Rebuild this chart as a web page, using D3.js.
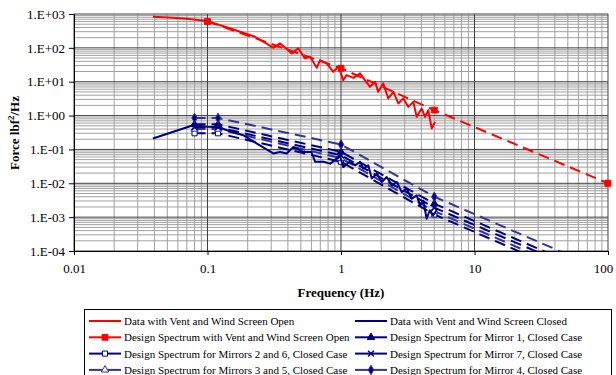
<!DOCTYPE html>
<html>
<head>
<meta charset="utf-8">
<script src="https://cdn.jsdelivr.net/npm/d3@7"></script>
<style>
  body { margin: 0; background: #fff; }
  svg { font-family: "Liberation Serif", "Times New Roman", serif; }
</style>
</head>
<body>
<div class="svg-container"></div>
<script>
// axis ticks
const freqTicks = [0.01, 0.1, 1, 10, 100];
const freqTickLabels = ["0.01", "0.1", "1", "10", "100"];
const forceTicks = [1e-4, 1e-3, 1e-2, 1e-1, 1e0, 1e1, 1e2, 1e3];
const forceTickLabels = ["1.E-04", "1.E-03", "1.E-02", "1.E-01", "1.E+00", "1.E+01", "1.E+02", "1.E+03"];

// measured data, vent and wind screen open
const openFreq = [0.039, 0.055, 0.07, 0.085, 0.1, 0.147, 0.227, 0.311, 0.349, 0.428, 0.479, 0.537, 0.586, 0.658, 0.697, 0.782, 0.875, 0.929, 0.96, 1.04, 1.10, 1.24, 1.39, 1.51, 1.65, 1.80, 1.90, 2.07, 2.26, 2.47, 2.69, 2.93, 3.19, 3.48, 3.69, 4.02, 4.26, 4.51, 4.78, 5.06];
const openForce = [830, 770, 720, 670, 615, 378, 213, 101, 136, 68.7, 96.6, 48.9, 54.5, 25.8, 43.5, 34.8, 19.6, 24.7, 27.6, 11.1, 15.7, 13.0, 17.6, 11.1, 7.06, 9.93, 5.02, 8.91, 3.21, 5.02, 2.28, 3.21, 1.81, 2.54, 0.916, 1.62, 0.916, 1.45, 0.415, 0.652];

// measured data, vent and wind screen closed
const closedFreq = [0.039, 0.078, 0.1, 0.12, 0.14, 0.185, 0.233, 0.311, 0.349, 0.392, 0.44, 0.52, 0.60, 0.64, 0.74, 0.83, 0.90, 0.98, 1.04, 1.16, 1.28, 1.39, 1.47, 1.60, 1.70, 1.86, 2.02, 2.20, 2.40, 2.62, 2.85, 3.10, 3.39, 3.69, 3.91, 4.13, 4.38, 4.63, 4.90, 5.20];
const closedForce = [0.21, 0.52, 0.47, 0.46, 0.37, 0.263, 0.15, 0.076, 0.084, 0.076, 0.119, 0.084, 0.084, 0.043, 0.043, 0.038, 0.048, 0.067, 0.030, 0.043, 0.034, 0.043, 0.027, 0.034, 0.0138, 0.0194, 0.0109, 0.0153, 0.0087, 0.0109, 0.0055, 0.0070, 0.0035, 0.0044, 0.0022, 0.0031, 0.0009, 0.0016, 0.00113, 0.0016];

// design spectra
const designOpenFreq = [0.1, 1, 5, 100];
const designOpenForce = [600, 25, 1.45, 0.01];
const mirrorFreq = [0.08, 0.12, 1, 5, 100];
const mirror1 = [0.55, 0.55, 0.085, 0.0025, 1.5e-5];
const mirror7 = [0.45, 0.45, 0.067, 0.0019, 1.2e-5];
const mirror26 = [0.30, 0.30, 0.043, 0.0012, 7e-6];
const mirror35 = [0.40, 0.40, 0.055, 0.0015, 9e-6];
const mirror4 = [0.85, 0.85, 0.14, 0.0040, 2.4e-5];

const W = 616, H = 375;
const plotLeft = 74, plotRight = 608, plotTop = 14, plotBottom = 251;

const svg = d3.select('.svg-container').append('svg')
    .attr('width', W)
    .attr('height', H);

const x = d3.scaleLog().domain([0.01, 100]).range([plotLeft, plotRight]);
const y = d3.scaleLog().domain([1e-4, 1e3]).range([plotBottom, plotTop]);

// gridlines
const minorX = [], minorY = [];
for (let e = -2; e < 2; e++) for (let k = 2; k < 10; k++) minorX.push(k * Math.pow(10, e));
for (let e = -4; e < 3; e++) for (let k = 2; k < 10; k++) minorY.push(k * Math.pow(10, e));

const grid = svg.append('g').attr('class', 'grid');
grid.selectAll('.vminor').data(minorX).enter().append('line')
    .attr('x1', d => x(d)).attr('x2', d => x(d))
    .attr('y1', plotTop).attr('y2', plotBottom)
    .attr('stroke', '#a0a0a0').attr('stroke-width', 1);
grid.selectAll('.hminor').data(minorY).enter().append('line')
    .attr('x1', plotLeft).attr('x2', plotRight)
    .attr('y1', d => y(d)).attr('y2', d => y(d))
    .attr('stroke', '#a0a0a0').attr('stroke-width', 1);
grid.selectAll('.vmajor').data(freqTicks).enter().append('line')
    .attr('x1', d => x(d)).attr('x2', d => x(d))
    .attr('y1', plotTop).attr('y2', plotBottom)
    .attr('stroke', '#404040').attr('stroke-width', 1);
grid.selectAll('.hmajor').data(forceTicks).enter().append('line')
    .attr('x1', plotLeft).attr('x2', plotRight)
    .attr('y1', d => y(d)).attr('y2', d => y(d))
    .attr('stroke', '#404040').attr('stroke-width', 1);

// axes
const xAxis = svg.append('g')
    .attr('transform', `translate(0, ${plotBottom})`)
    .call(d3.axisBottom(x).tickValues(freqTicks)
        .tickFormat((d, i) => freqTickLabels[i]).tickSize(4).tickPadding(9));
const yAxis = svg.append('g')
    .attr('transform', `translate(${plotLeft}, 0)`)
    .call(d3.axisLeft(y).tickValues(forceTicks)
        .tickFormat((d, i) => forceTickLabels[i]).tickSize(5).tickPadding(4));
[xAxis, yAxis].forEach(a => {
    a.select('.domain').attr('stroke', '#000');
    a.selectAll('.tick line').attr('stroke', '#000');
    a.selectAll('text').attr('fill', '#000')
        .style('font-family', '"Liberation Serif", serif').style('font-size', '13px');
});
// keep "100" inside the picture
xAxis.selectAll('.tick text').filter(d => d === 100).attr('dx', -5);

// axis titles
svg.append('text')
    .attr('x', 341).attr('y', 297)
    .attr('text-anchor', 'middle')
    .style('font-size', '13px').style('font-weight', 'bold')
    .text('Frequency (Hz)');
const yt = svg.append('text')
    .attr('transform', 'translate(19, 133) rotate(-90)')
    .attr('text-anchor', 'middle')
    .style('font-size', '13px').style('font-weight', 'bold');
yt.append('tspan').text('Force lbf');
yt.append('tspan').attr('dy', -5).style('font-size', '9px').text('2');
yt.append('tspan').attr('dy', 5).text('/Hz');

// series
svg.append('clipPath').attr('id', 'plot-clip')
    .append('rect').attr('x', plotLeft).attr('y', plotTop)
    .attr('width', plotRight - plotLeft).attr('height', plotBottom - plotTop);

const RED = '#ff0000', NAVY = '#000080', BLUE2 = '#333399';
const sym = {
    square: d3.symbolSquare,
    triangle: d3.symbolTriangle,
    cross: d3.symbolTimes,
    diamond: d3.symbolDiamond
};

const series = [
    { name: 'Design Spectrum for Mirrors 2 and 6, Closed Case', fx: mirrorFreq, fy: mirror26, color: NAVY, dash: '11,6', marker: 'square', fill: '#fff', size: 26 },
    { name: 'Design Spectrum for Mirrors 3 and 5, Closed Case', fx: mirrorFreq, fy: mirror35, color: BLUE2, dash: '11,6', marker: 'triangle', fill: '#fff', size: 24 },
    { name: 'Design Spectrum for Mirror 7, Closed Case', fx: mirrorFreq, fy: mirror7, color: NAVY, dash: '11,6', marker: 'cross', fill: 'none', size: 24 },
    { name: 'Design Spectrum for Mirror 1, Closed Case', fx: mirrorFreq, fy: mirror1, color: NAVY, dash: '11,6', marker: 'triangle', fill: NAVY, size: 24 },
    { name: 'Design Spectrum for Mirror 4, Closed Case', fx: mirrorFreq, fy: mirror4, color: BLUE2, dash: '11,6', marker: 'diamond', fill: NAVY, size: 26 },
    { name: 'Data with Vent and Wind Screen Closed', fx: closedFreq, fy: closedForce, color: NAVY, dash: null, marker: null },
    { name: 'Data with Vent and Wind Screen Open', fx: openFreq, fy: openForce, color: RED, dash: null, marker: null },
    { name: 'Design Spectrum with Vent and Wind Screen Open', fx: designOpenFreq, fy: designOpenForce, color: RED, dash: '11,6', marker: 'square', fill: RED, size: 34 }
];

const line = d3.line().x(d => x(d[0])).y(d => y(d[1]));
const plot = svg.append('g').attr('clip-path', 'url(#plot-clip)');

series.forEach(s => {
    const pts = s.fx.map((f, i) => [f, s.fy[i]]);
    plot.append('path')
        .datum(pts)
        .attr('d', line)
        .attr('fill', 'none')
        .attr('stroke', s.color)
        .attr('stroke-width', 2)
        .attr('stroke-linejoin', 'round')
        .attr('stroke-dasharray', s.dash);
    if (s.marker) {
        plot.selectAll(null).data(pts).enter().append('path')
            .attr('d', d3.symbol().type(sym[s.marker]).size(s.size))
            .attr('transform', d => `translate(${x(d[0])}, ${y(d[1])})`)
            .attr('fill', s.fill)
            .attr('stroke', s.color)
            .attr('stroke-width', s.marker === 'cross' ? 1.5 : 1);
    }
});

// red marker at 100 Hz sits on the right edge, outside the clip
const lastRed = series[7];
svg.append('path')
    .attr('d', d3.symbol().type(d3.symbolSquare).size(34))
    .attr('transform', `translate(${x(lastRed.fx[3])}, ${y(lastRed.fy[3])})`)
    .attr('fill', RED).attr('stroke', RED);

// legend
const legendOrder = [
    [6, 7, 0, 1],
    [5, 3, 2, 4]
];
const legend = svg.append('g');
legend.append('rect')
    .attr('x', 84.5).attr('y', 309.5)
    .attr('width', 527).attr('height', 80)
    .attr('fill', '#fff').attr('stroke', '#000').attr('stroke-width', 1);

const colX = [89, 355];
legendOrder.forEach((col, c) => {
    col.forEach((si, r) => {
        const s = series[si];
        const ly = 321 + r * 16.3;
        const g = legend.append('g').attr('transform', `translate(${colX[c]}, ${ly})`);
        g.append('line').attr('x1', 0).attr('x2', 32).attr('y1', 0).attr('y2', 0)
            .attr('stroke', s.color).attr('stroke-width', 2);
        if (s.marker) {
            g.append('path')
                .attr('d', d3.symbol().type(sym[s.marker]).size(s.size))
                .attr('transform', 'translate(16, 0)')
                .attr('fill', s.fill).attr('stroke', s.color)
                .attr('stroke-width', s.marker === 'cross' ? 1.5 : 1);
        }
        g.append('text').attr('x', 35).attr('y', 4)
            .style('font-size', '11px')
            .text(s.name);
    });
});
</script>
</body>
</html>
